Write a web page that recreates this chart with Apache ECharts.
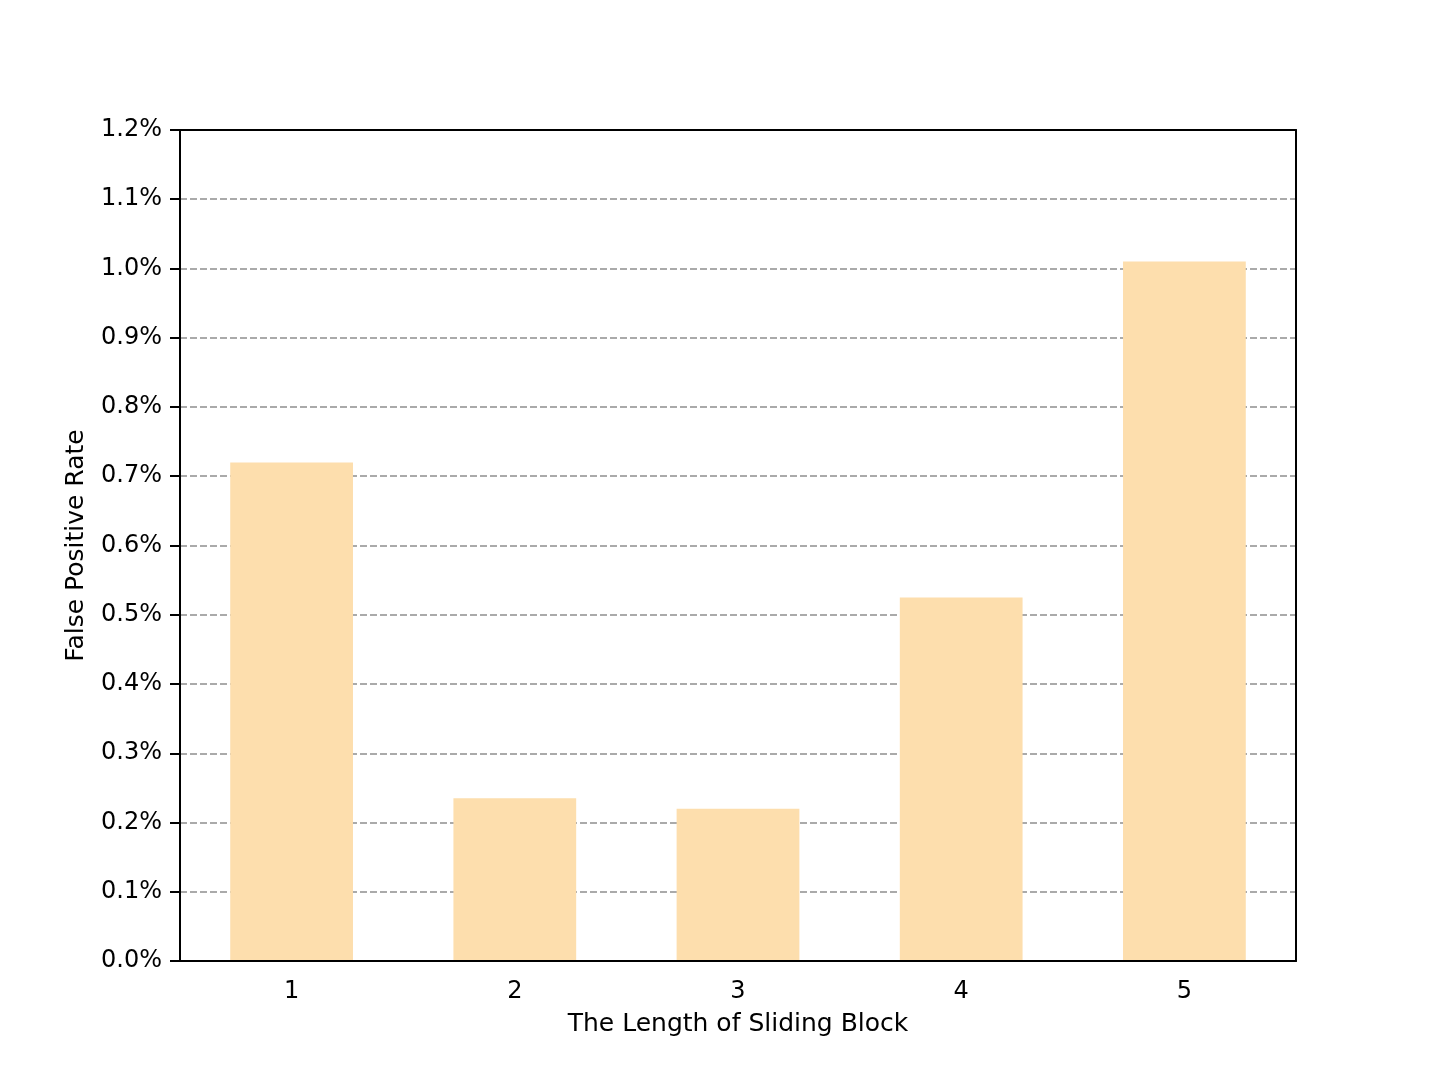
<!DOCTYPE html>
<html>
<head>
<meta charset="utf-8">
<script src="https://cdn.jsdelivr.net/npm/echarts@6/dist/echarts.min.js"></script>
<style>
  html, body { margin: 0; padding: 0; background: #fff; }
  #chart { width: 1440px; height: 1080px; }
</style>
</head>
<body>
<div id="chart"></div>
<script>
// block lengths on the x axis
var blockLengths = ['1', '2', '3', '4', '5'];
// false positive rate, in percent
var falsePositiveRate = [0.72, 0.235, 0.22, 0.525, 1.01];

var font = 'DejaVu Sans';
var myChart = echarts.init(document.getElementById('chart'));

function pct(v) {
  return v.toFixed(1) + '%';
}

myChart.setOption({
  backgroundColor: '#fff',
  animation: false,
  grid: { left: 180, top: 130, width: 1116, height: 831 },
  xAxis: [{
    type: 'category',
    data: blockLengths,
    boundaryGap: true,
    name: 'The Length of Sliding Block',
    nameLocation: 'middle',
    nameGap: 51,
    nameTextStyle: { color: '#000', fontFamily: font, fontSize: 25 },
    axisLine: { lineStyle: { color: '#000', width: 2 } },
    axisTick: { alignWithLabel: true, length: 10, lineStyle: { color: '#000', width: 2 } },
    axisLabel: { color: '#000', fontFamily: font, fontSize: 24, margin: 19 },
    splitLine: { show: false },
    z: 5
  }, {
    // top border of the frame
    type: 'category',
    data: blockLengths,
    position: 'top',
    axisLine: { show: true, onZero: false, lineStyle: { color: '#000', width: 2 } },
    axisTick: { show: false },
    axisLabel: { show: false },
    z: 5
  }],
  yAxis: [{
    type: 'value',
    min: 0,
    max: 1.2,
    interval: 0.1,
    name: 'False Positive Rate',
    nameLocation: 'middle',
    nameGap: 91,
    nameTextStyle: { color: '#000', fontFamily: font, fontSize: 25 },
    axisLine: { show: true, lineStyle: { color: '#000', width: 2 } },
    axisTick: { show: true, length: 10, lineStyle: { color: '#000', width: 2 } },
    axisLabel: { color: '#000', fontFamily: font, fontSize: 24, margin: 18, padding: [3, 0, 0, 0], formatter: pct },
    splitLine: { show: false },
    z: 5
  }, {
    // dashed grid lines, kept under the bars
    type: 'value',
    min: 0,
    max: 1.2,
    interval: 0.1,
    position: 'left',
    axisLine: { show: false },
    axisTick: { show: false },
    axisLabel: { show: false },
    splitLine: { show: true, lineStyle: { color: '#aaaaaa', width: 2, type: [7, 3] } },
    z: 0
  }, {
    // right border of the frame
    type: 'value',
    min: 0,
    max: 1.2,
    position: 'right',
    axisLine: { show: true, onZero: false, lineStyle: { color: '#000', width: 2 } },
    axisTick: { show: false },
    axisLabel: { show: false },
    splitLine: { show: false },
    z: 5
  }],
  series: [{
    type: 'bar',
    data: falsePositiveRate,
    barWidth: '55%',
    itemStyle: { color: '#FDDEAD' },
    z: 2
  }]
});
</script>
</body>
</html>
